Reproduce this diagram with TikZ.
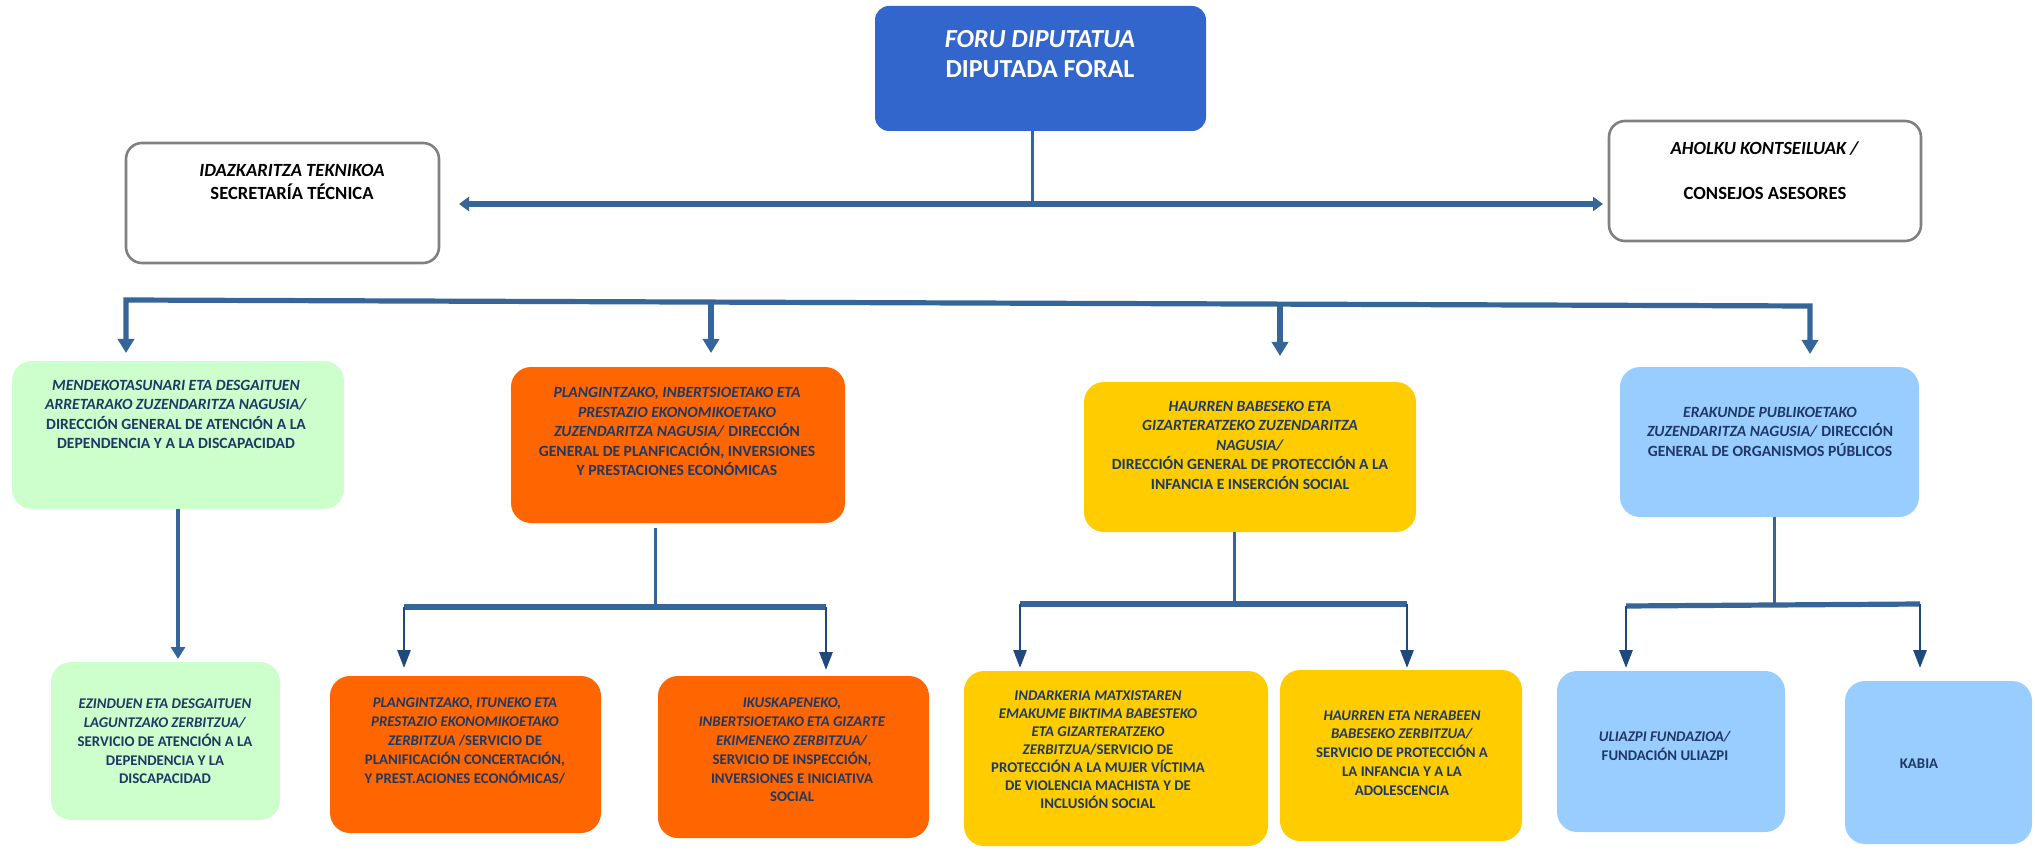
\documentclass[tikz,border=0pt]{standalone}
\usepackage{fontspec}
\setmainfont{Carlito}
\usetikzlibrary{arrows.meta,fit}
\definecolor{topblue}{RGB}{51,102,204}
\definecolor{gfill}{RGB}{204,255,204}
\definecolor{ofill}{RGB}{255,102,0}
\definecolor{yfill}{RGB}{255,204,0}
\definecolor{bfill}{RGB}{153,204,255}
\definecolor{txtcol}{RGB}{31,56,100}
\definecolor{linecol}{RGB}{54,101,153}
\definecolor{navy}{RGB}{31,73,125}
\definecolor{bordergray}{RGB}{128,128,128}
\begin{document}
\begin{tikzpicture}[x=0.5pt,y=-0.5pt,
  cbox/.style={rounded corners=10pt, inner sep=0pt, draw=none},
  wbox/.style={rounded corners=8pt, inner sep=0pt, draw=bordergray, line width=1.3pt, fill=white},
  ltext/.style={align=center, inner sep=0pt, text=txtcol, font=\bfseries\fontsize{7.8}{9.75}\selectfont},
  stext/.style={align=center, inner sep=0pt, text=txtcol, font=\bfseries\fontsize{7.4}{9.4}\selectfont},
  wtext/.style={align=center, inner sep=0pt, text=black, font=\bfseries\fontsize{9.3}{11.5}\selectfont},
  conn/.style={draw=linecol, line width=1.5pt},
  thickline/.style={draw=linecol, line width=2.6pt},
  bigtip/.tip={Triangle[width=8pt,length=7pt]},
  subarrow/.style={draw=navy, line width=1.4pt, -{Triangle[width=6.5pt,length=9pt]}},
  midarrow/.style={draw=linecol, line width=2pt, -{Triangle[width=7pt,length=6pt]}}
]
\useasboundingbox (0,0) rectangle (2035,850);

% ---- boxes ----
\node[cbox, rounded corners=7pt, fill=topblue, fit={(875,6) (1206,131)}] (dip) {};
\node[wbox, fit={(126,143) (439,263)}] (sec) {};
\node[wbox, fit={(1609,121) (1921,241)}] (ahol) {};

\node[cbox, fill=gfill, fit={(12,361) (344,509)}] (g2) {};
\node[cbox, fill=ofill, fit={(511,367) (845,523)}] (o2) {};
\node[cbox, fill=yfill, fit={(1084,382) (1416,532)}] (y2) {};
\node[cbox, fill=bfill, fit={(1620,367) (1919,517)}] (b2) {};

\node[cbox, fill=gfill, fit={(51,662) (280,820)}] (g3) {};
\node[cbox, fill=ofill, fit={(330,676) (601,833)}] (o3a) {};
\node[cbox, fill=ofill, fit={(658,676) (929,838)}] (o3b) {};
\node[cbox, fill=yfill, fit={(964,671) (1268,846)}] (y3a) {};
\node[cbox, fill=yfill, fit={(1280,670) (1522,841)}] (y3b) {};
\node[cbox, fill=bfill, fit={(1557,671) (1785,832)}] (b3a) {};
\node[cbox, fill=bfill, fit={(1845,681) (2032,844)}] (b3b) {};

% ---- texts ----
\node[align=center, inner sep=0pt, text=white, font=\bfseries\fontsize{13}{15}\selectfont] (tdip) at (1040,54)
  {\textit{FORU DIPUTATUA}\\DIPUTADA FORAL};
\node[wtext] (tsec) at (292,181.5) {\textit{IDAZKARITZA TEKNIKOA}\\SECRETARÍA TÉCNICA};
\node[wtext] (tahol) at (1765,170.5) {\textit{AHOLKU KONTSEILUAK /}\\[11pt]CONSEJOS ASESORES};

\node[ltext] (tg2) at (176,414.5) {\textit{MENDEKOTASUNARI ETA DESGAITUEN}\\\textit{ARRETARAKO ZUZENDARITZA NAGUSIA/}\\DIRECCIÓN GENERAL DE ATENCIÓN A LA\\DEPENDENCIA Y A LA DISCAPACIDAD};
\node[ltext] (to2) at (677,431.5) {\textit{PLANGINTZAKO, INBERTSIOETAKO ETA}\\\textit{PRESTAZIO EKONOMIKOETAKO}\\\textit{ZUZENDARITZA NAGUSIA/} DIRECCIÓN\\GENERAL DE PLANFICACIÓN, INVERSIONES\\Y PRESTACIONES ECONÓMICAS};
\node[ltext] (ty2) at (1250,445) {\textit{HAURREN BABESEKO ETA}\\\textit{GIZARTERATZEKO ZUZENDARITZA}\\\textit{NAGUSIA/}\\DIRECCIÓN GENERAL DE PROTECCIÓN A LA\\INFANCIA E INSERCIÓN SOCIAL};
\node[ltext] (tb2) at (1770,431.5) {\textit{ERAKUNDE PUBLIKOETAKO}\\\textit{ZUZENDARITZA NAGUSIA/} DIRECCIÓN\\GENERAL DE ORGANISMOS PÚBLICOS};

\node[stext] (tg3) at (165,741.5) {\textit{EZINDUEN ETA DESGAITUEN}\\\textit{LAGUNTZAKO ZERBITZUA/}\\SERVICIO DE ATENCIÓN A LA\\DEPENDENCIA Y LA\\DISCAPACIDAD};
\node[stext] (to3a) at (465,741) {\textit{PLANGINTZAKO, ITUNEKO ETA}\\\textit{PRESTAZIO EKONOMIKOETAKO}\\\textit{ZERBITZUA} /SERVICIO DE\\PLANIFICACIÓN CONCERTACIÓN,\\Y PREST.ACIONES ECONÓMICAS/};
\node[stext] (to3b) at (792,750) {\textit{IKUSKAPENEKO,}\\\textit{INBERTSIOETAKO ETA GIZARTE}\\\textit{EKIMENEKO ZERBITZUA/}\\SERVICIO DE INSPECCIÓN,\\INVERSIONES E INICIATIVA\\SOCIAL};
\node[stext, font=\bfseries\fontsize{7.4}{9}\selectfont] (ty3a) at (1098,749.5) {\textit{INDARKERIA MATXISTAREN}\\\textit{EMAKUME BIKTIMA BABESTEKO}\\\textit{ETA GIZARTERATZEKO}\\\textit{ZERBITZUA}/SERVICIO DE\\PROTECCIÓN A LA MUJER VÍCTIMA\\DE VIOLENCIA MACHISTA Y DE\\INCLUSIÓN SOCIAL};
\node[stext] (ty3b) at (1402,753) {\textit{HAURREN ETA NERABEEN}\\\textit{BABESEKO ZERBITZUA/}\\SERVICIO DE PROTECCIÓN A\\LA INFANCIA Y A LA\\ADOLESCENCIA};
\node[stext] (tb3a) at (1665,746) {\textit{ULIAZPI FUNDAZIOA/}\\FUNDACIÓN ULIAZPI};
\node[stext] (tb3b) at (1919,764) {KABIA};

% ---- connectors: top ----
\coordinate (hub) at (1032,204);
\coordinate (hL) at (459,204);
\coordinate (hR) at (1603,204);
\draw[conn] (dip.south -| hub) -- (hub);
\draw[thickline, {Triangle[width=7pt,length=5pt]}-{Triangle[width=7pt,length=5pt]}] (hL) -- (hR);

% ---- main branch ----
\coordinate (bA) at (126,300);
\coordinate (bB) at (711,302);
\coordinate (bC) at (1280,304);
\coordinate (bD) at (1810,306);
\coordinate (tA) at (126,353);
\coordinate (tB) at (711,353);
\coordinate (tC) at (1280,356);
\coordinate (tD) at (1810,354);
\draw[thickline, {bigtip}-{bigtip}] (tA) -- (bA) -- (bD) -- (tD);
\draw[thickline, -{bigtip}] (bB) -- (tB);
\draw[thickline, -{bigtip}] (bC) -- (tC);

% ---- green ----
\coordinate (gt) at (178,659);
\draw[midarrow] (g2.south -| gt) -- (gt);

% ---- orange ----
\coordinate (oj) at (655,605);
\coordinate (oL) at (404,607);
\coordinate (oR) at (826,607);
\coordinate (oLt) at (404,668);
\coordinate (oRt) at (826,670);
\draw[conn, shorten <=2.5pt] (o2.south -| oj) -- (oj);
\draw[thickline] (oL) -- (oR);
\draw[subarrow] (oL) -- (oLt);
\draw[subarrow] (oR) -- (oRt);

% ---- yellow ----
\coordinate (yj) at (1234,604);
\coordinate (yL) at (1020,604);
\coordinate (yR) at (1407,604);
\coordinate (yLt) at (1020,668);
\coordinate (yRt) at (1407,668);
\draw[conn] (y2.south -| yj) -- (yj);
\draw[thickline] (yL) -- (yR);
\draw[subarrow] (yL) -- (yLt);
\draw[subarrow] (yR) -- (yRt);

% ---- blue ----
\coordinate (bj) at (1774,604);
\coordinate (bL) at (1626,606);
\coordinate (bR) at (1920,604);
\coordinate (bLt) at (1626,668);
\coordinate (bRt) at (1920,668);
\draw[conn] (b2.south -| bj) -- (bj);
\draw[thickline] (bL) -- (bR);
\draw[subarrow] (bL) -- (bLt);
\draw[subarrow] (bR) -- (bRt);
\end{tikzpicture}
\end{document}
